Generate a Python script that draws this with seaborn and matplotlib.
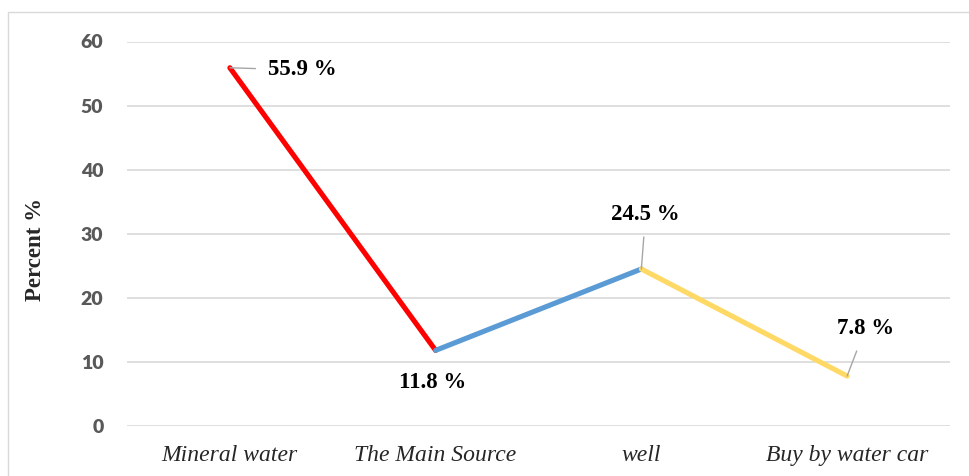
import numpy as np
import pandas as pd
import matplotlib
matplotlib.use("Agg")
import matplotlib.pyplot as plt
from matplotlib.patches import Rectangle
import seaborn as sns

# Water source categories and their share (%)
categories = ["Mineral water", "The Main Source", "well", "Buy by water car"]
percents = [55.9, 11.8, 24.5, 7.8]
segment_colors = ["#FF0000", "#5B9BD5", "#FFD966"]
y_ticks = [0, 10, 20, 30, 40, 50, 60]

# Each segment joins consecutive categories and gets its own colour
rows = []
for seg in range(len(categories) - 1):
    for idx in (seg, seg + 1):
        rows.append({"segment": seg, "pos": idx, "percent": percents[idx]})
df = pd.DataFrame(rows)

sns.set_theme(style="white")
plt.rcParams["font.family"] = ["Liberation Serif", "DejaVu Serif"]

fig = plt.figure(figsize=(9.7, 4.76), dpi=100)
ax = fig.add_axes([127 / 970, 1 - 426 / 476, (950 - 127) / 970, (426 - 41.5) / 476])

# Light outer frame
fig.patches.append(Rectangle((8 / 970, -0.2), 1.2, 1.2 - 12 / 476,
                             transform=fig.transFigure, fill=False,
                             edgecolor="#D9D9D9", linewidth=1.0, zorder=0))

sns.lineplot(data=df, x="pos", y="percent", hue="segment", palette=segment_colors,
             units="segment", estimator=None, sort=False, linewidth=3.7,
             legend=False, ax=ax, solid_capstyle="round", zorder=3)

ax.set_xlim(-0.5, len(categories) - 0.5)
ax.set_ylim(0, 60)
ax.set_yticks(y_ticks)
ax.set_xticks(range(len(categories)))
ax.set_xticklabels(categories, fontstyle="italic", fontsize=17,
                   family=["Liberation Serif", "DejaVu Serif"])
ax.set_yticklabels([str(v) for v in y_ticks], fontsize=14, fontweight="heavy",
                   color="#595959", family=["Lato", "DejaVu Sans"])
ax.tick_params(axis="x", length=0, pad=14)
ax.tick_params(axis="y", length=0, pad=17)
ax.yaxis.grid(True, color="#D9D9D9", linewidth=1.2)
ax.xaxis.grid(False)
for s in ax.spines.values():
    s.set_visible(False)

ax.set_xlabel("")
ax.set_ylabel("Percent %", fontsize=16.5, fontweight="bold",
              family=["Liberation Serif", "DejaVu Serif"])
ax.yaxis.set_label_coords(-0.098, 0.46)

# Value labels with leader lines
label_offsets = [(52, -1.6), (-2, -23), (3, 39.5), (13, 34)]
leader = [True, False, True, True]
for i, (v, off, ld) in enumerate(zip(percents, label_offsets, leader)):
    kw = {}
    if ld:
        kw["arrowprops"] = dict(arrowstyle="-", color="#A6A6A6", lw=1.0,
                                shrinkA=6.5, shrinkB=0)
    ax.annotate(f"{v} %", xy=(i, v), xytext=off, textcoords="offset points",
                ha="center", va="center", fontsize=16.5, fontweight="bold",
                color="black", zorder=5, **kw)

fig.savefig("out.png", dpi=100)
